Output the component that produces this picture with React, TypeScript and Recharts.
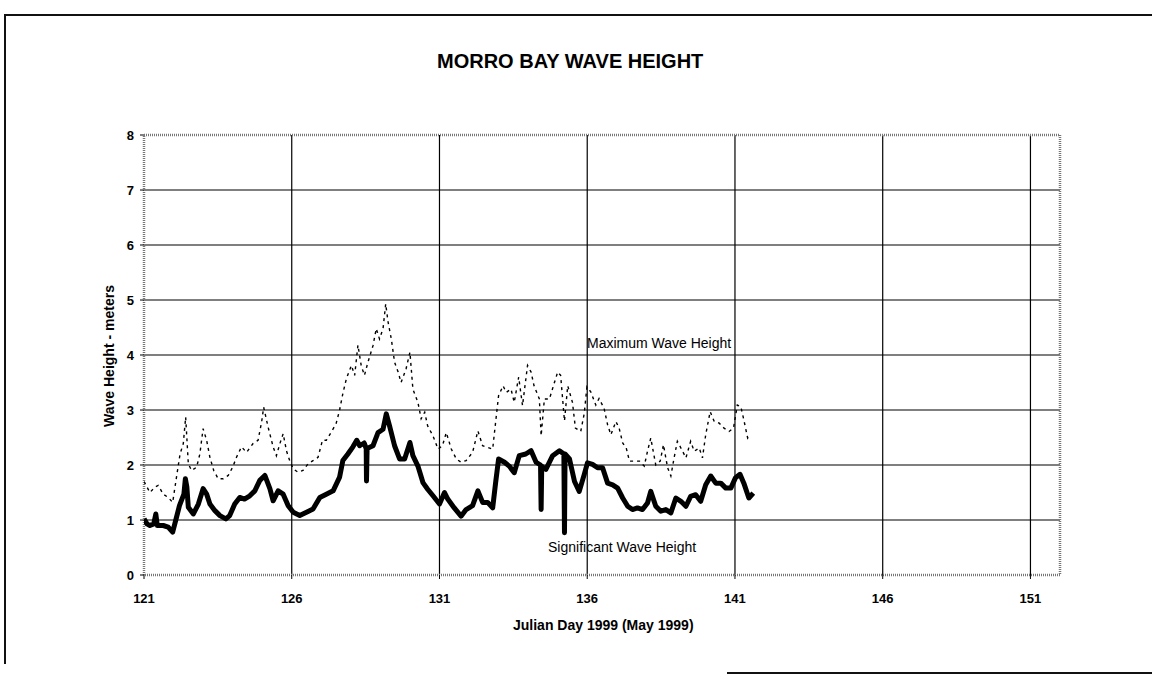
import React from 'react';
import { LineChart, Line, XAxis, YAxis, CartesianGrid, ReferenceArea } from 'recharts';

const xTicks = [121, 126, 131, 136, 141, 146, 151];
const yTicks = [0, 1, 2, 3, 4, 5, 6, 7, 8];

const sigDays = [
  121.0, 121.1, 121.2, 121.33, 121.4, 121.45, 121.65, 121.82, 121.97, 122.1, 122.2, 122.35, 122.4, 122.45, 122.5,
  122.67, 122.84, 123.0, 123.12, 123.23, 123.4, 123.57, 123.77, 123.9, 124.07, 124.24, 124.4, 124.58, 124.75,
  124.92, 125.09, 125.26, 125.37, 125.54, 125.71, 125.88, 126.05, 126.27, 126.5, 126.72, 126.95, 127.17, 127.4,
  127.62, 127.73, 127.9, 128.07, 128.2, 128.3, 128.45, 128.52, 128.53, 128.55, 128.75, 128.92, 129.09, 129.2,
  129.31, 129.48, 129.65, 129.82, 130.0, 130.1, 130.27, 130.44, 130.6, 130.78, 131.0, 131.17, 131.28, 131.5,
  131.73, 131.9, 132.12, 132.3, 132.46, 132.63, 132.8, 132.9, 133.0, 133.2, 133.36, 133.53, 133.7, 133.92,
  134.1, 134.27, 134.42, 134.44, 134.46, 134.6, 134.83, 135.06, 135.21, 135.23, 135.25, 135.4, 135.57, 135.73,
  135.9, 136.01, 136.18, 136.35, 136.52, 136.69, 136.86, 137.03, 137.2, 137.37, 137.53, 137.7, 137.87, 138.04,
  138.15, 138.32, 138.49, 138.66, 138.83, 139.0, 139.17, 139.34, 139.5, 139.67, 139.84, 140.01, 140.18, 140.35,
  140.52, 140.69, 140.86, 141.02, 141.17, 141.3, 141.47, 141.62,
];
const sigValues = [
  1.02, 0.93, 0.9, 0.93, 1.11, 0.9, 0.9, 0.87, 0.78, 1.05, 1.26, 1.47, 1.75, 1.6, 1.23,
  1.11, 1.29, 1.57, 1.47, 1.29, 1.17, 1.08, 1.02, 1.08, 1.29, 1.41, 1.38, 1.44, 1.53,
  1.72, 1.81, 1.57, 1.35, 1.53, 1.47, 1.26, 1.14, 1.08, 1.14, 1.2, 1.41, 1.47, 1.53,
  1.78, 2.08, 2.2, 2.33, 2.45, 2.35, 2.4, 2.3, 1.71, 2.3, 2.35, 2.59, 2.65, 2.93,
  2.71, 2.35, 2.11, 2.11, 2.41, 2.17, 1.98, 1.68, 1.56, 1.44, 1.29, 1.5, 1.38, 1.22,
  1.07, 1.19, 1.26, 1.53, 1.32, 1.32, 1.22, 1.68, 2.11, 2.05, 1.98, 1.86, 2.17, 2.2,
  2.26, 2.05, 2.0, 1.19, 1.98, 1.92, 2.17, 2.26, 2.2, 0.77, 2.2, 2.11, 1.7, 1.52,
  1.83, 2.04, 2.01, 1.95, 1.95, 1.67, 1.64, 1.58, 1.4, 1.25, 1.19, 1.22, 1.19, 1.31,
  1.52, 1.25, 1.16, 1.19, 1.13, 1.4, 1.34, 1.25, 1.43, 1.46, 1.34, 1.64, 1.8, 1.67,
  1.67, 1.58, 1.58, 1.77, 1.83, 1.67, 1.4, 1.49,
];

const maxDays = [
  121.0, 121.2, 121.37, 121.48, 121.65, 121.82, 121.97, 122.1, 122.22, 122.33, 122.41, 122.5, 122.61, 122.78,
  122.89, 123.0, 123.12, 123.23, 123.36, 123.51, 123.68, 123.85, 124.0, 124.13, 124.3, 124.47, 124.69, 124.86,
  124.98, 125.05, 125.2, 125.37, 125.48, 125.6, 125.71, 125.82, 125.93, 126.05, 126.21, 126.38, 126.55, 126.72,
  126.89, 127.04, 127.17, 127.34, 127.5, 127.62, 127.73, 127.85, 128.02, 128.13, 128.24, 128.35, 128.46, 128.58,
  128.75, 128.86, 128.97, 129.09, 129.18, 129.26, 129.37, 129.48, 129.6, 129.7, 129.87, 130.0, 130.1, 130.27,
  130.38, 130.5, 130.6, 130.78, 130.95, 131.1, 131.23, 131.4, 131.57, 131.73, 131.9, 132.12, 132.3, 132.46,
  132.63, 132.8, 132.9, 133.0, 133.15, 133.26, 133.42, 133.53, 133.68, 133.81, 133.98, 134.1, 134.2, 134.38,
  134.44, 134.55, 134.72, 134.89, 135.0, 135.1, 135.23, 135.34, 135.5, 135.6, 135.78, 135.9, 135.99, 136.12,
  136.29, 136.4, 136.57, 136.69, 136.8, 136.97, 137.08, 137.2, 137.32, 137.43, 137.6, 137.77, 137.93, 138.04,
  138.15, 138.32, 138.47, 138.58, 138.72, 138.83, 138.94, 139.05, 139.17, 139.34, 139.5, 139.62, 139.79, 139.9,
  140.01, 140.16, 140.3, 140.47, 140.63, 140.8, 140.95, 141.08, 141.2, 141.3, 141.43, 141.52,
];
const maxValues = [
  1.7, 1.5, 1.6, 1.63, 1.47, 1.41, 1.32, 1.78, 2.2, 2.39, 2.87, 2.02, 1.9, 1.96,
  2.2, 2.66, 2.45, 2.14, 1.9, 1.75, 1.75, 1.81, 1.96, 2.14, 2.33, 2.23, 2.39, 2.45,
  2.78, 3.05, 2.69, 2.33, 2.17, 2.39, 2.57, 2.26, 2.08, 1.93, 1.87, 1.9, 2.02, 2.08,
  2.14, 2.45, 2.45, 2.6, 2.75, 3.0, 3.3, 3.57, 3.81, 3.63, 4.18, 3.81, 3.63, 3.87,
  4.17, 4.48, 4.29, 4.48, 4.93, 4.6, 4.29, 3.87, 3.69, 3.5, 3.75, 4.05, 3.38, 3.14,
  2.84, 2.96, 2.71, 2.53, 2.29, 2.35, 2.59, 2.29, 2.11, 2.05, 2.08, 2.23, 2.62, 2.35,
  2.32, 2.29, 2.78, 3.26, 3.44, 3.32, 3.38, 3.14, 3.6, 3.08, 3.81, 3.69, 3.44, 3.2,
  2.53, 3.2, 3.2, 3.5, 3.69, 3.63, 2.8, 3.44, 3.14, 2.67, 2.61, 2.94, 3.42, 3.33,
  3.09, 3.21, 3.03, 2.73, 2.55, 2.79, 2.67, 2.4, 2.31, 2.07, 2.07, 2.07, 1.98, 2.25,
  2.49, 2.0, 2.07, 2.37, 1.95, 1.8, 2.13, 2.43, 2.31, 2.13, 2.43, 2.25, 2.31, 2.13,
  2.55, 2.97, 2.79, 2.76, 2.67, 2.61, 2.67, 3.09, 3.06, 2.82, 2.49, 2.55,
];

const sigData = sigDays.map((d, i) => ({ day: d, sig: sigValues[i] }));
const maxData = maxDays.map((d, i) => ({ day: d, max: maxValues[i] }));

const FONT = '"Liberation Sans", Arial, Helvetica, sans-serif';

export default function App() {
  return (
    <div style={{ position: 'absolute', left: 0, top: 0, width: 1152, height: 675, background: '#fff', fontFamily: FONT }}>
      {/* page frame */}
      <div style={{ position: 'absolute', left: 4, top: 14, width: 1148, height: 648, borderLeft: '2px solid #111', borderTop: '2px solid #111' }} />
      <div style={{ position: 'absolute', left: 727, top: 672, width: 425, height: 0, borderTop: '2px solid #111' }} />

      <LineChart
        width={1152}
        height={675}
        margin={{ top: 135, right: 92, bottom: 70, left: 84 }}
        style={{ position: 'absolute', left: 0, top: 0 }}
      >
        <CartesianGrid stroke="#000" strokeWidth={1.2} horizontalValues={[1, 2, 3, 4, 5, 6, 7]} verticalValues={[126, 131, 136, 141, 146, 151]} />
        <XAxis
          type="number"
          dataKey="day"
          domain={[121, 152]}
          ticks={xTicks}
          allowDataOverflow
          axisLine={false}
          tickLine={{ stroke: '#000' }}
          tickSize={4}
          tick={{ fill: '#000', fontSize: 13, fontWeight: 700, fontFamily: FONT }}
          tickMargin={15}
          height={30}
        />
        <YAxis
          type="number"
          domain={[0, 8]}
          ticks={yTicks}
          allowDataOverflow
          axisLine={false}
          tickLine={{ stroke: '#000' }}
          tickSize={4}
          tick={{ fill: '#000', fontSize: 13, fontWeight: 700, fontFamily: FONT }}
          tickMargin={6}
          width={60}
        />
        <ReferenceArea x1={121} x2={152} y1={0} y2={8} fill="none" stroke="#777" strokeWidth={2.5} strokeDasharray="1 1" ifOverflow="visible" />
        <Line data={maxData} dataKey="max" type="linear" stroke="#000" strokeWidth={1.4} strokeDasharray="3 4" dot={false} isAnimationActive={false} />
        <Line data={sigData} dataKey="sig" type="linear" stroke="#000" strokeWidth={5} strokeLinejoin="round" dot={false} isAnimationActive={false} />
      </LineChart>

      <div style={{ position: 'absolute', left: 437, top: 61, transform: 'translateY(-50%)', whiteSpace: 'nowrap', fontSize: 20, fontWeight: 700, color: '#000' }}>
        MORRO BAY WAVE HEIGHT
      </div>
      <div style={{ position: 'absolute', left: 109, top: 356, transform: 'translate(-50%, -50%) rotate(-90deg)', whiteSpace: 'nowrap', fontSize: 14, fontWeight: 700, color: '#000' }}>
        Wave Height - meters
      </div>
      <div style={{ position: 'absolute', left: 513, top: 625, transform: 'translateY(-50%)', whiteSpace: 'nowrap', fontSize: 14, fontWeight: 700, color: '#000' }}>
        Julian Day 1999 (May 1999)
      </div>
      <div style={{ position: 'absolute', left: 587, top: 343, transform: 'translateY(-50%)', whiteSpace: 'nowrap', fontSize: 14, color: '#000' }}>
        Maximum Wave Height
      </div>
      <div style={{ position: 'absolute', left: 548, top: 547, transform: 'translateY(-50%)', whiteSpace: 'nowrap', fontSize: 14, color: '#000' }}>
        Significant Wave Height
      </div>
    </div>
  );
}
